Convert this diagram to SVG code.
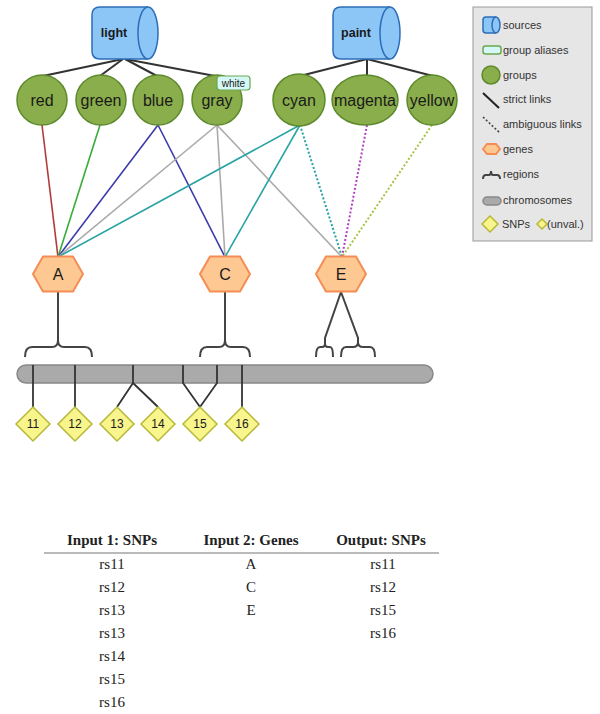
<svg xmlns="http://www.w3.org/2000/svg" width="600" height="714" viewBox="0 0 600 714">
<style>
.src{fill:#8cc6f7;stroke:#2e6eb8;stroke-width:1.5}
.grp{fill:#8aae4b;stroke:#5c8a2c;stroke-width:1.5}
.gene{fill:#fdc892;stroke:#f58d55;stroke-width:2}
.snp{fill:#f8f58d;stroke:#b8b838;stroke-width:1.5}
.chr{fill:#aaaaaa;stroke:#888;stroke-width:1.5}
.reg{fill:none;stroke:#444;stroke-width:2}
.lbl{font-family:"Liberation Sans",Arial,sans-serif;fill:#1a1a1a;text-anchor:middle}
.glbl{font-size:16px}
.slbl{font-size:12.5px;font-weight:bold}
.nlbl{font-size:12px}
.leg{font-family:"Liberation Sans",Arial,sans-serif;font-size:11px;fill:#333}
.tbl{font-family:"Liberation Serif","Times New Roman",serif;font-size:15px;fill:#222;text-anchor:middle}
.th{font-weight:bold;font-size:15px}
.e{fill:none;stroke-width:1.6}
.dot{stroke-dasharray:2,2;stroke-width:2}
</style>
<defs>
<path id="hex" d="M-25,0 L-15,-17.5 L15,-17.5 L25,0 L15,17.5 L-15,17.5 Z"/>
<path id="dia" d="M0,-17 L17,0 L0,17 L-17,0 Z"/>
</defs>

<g id="connectors">
  <g stroke="#333" stroke-width="2" fill="none">
    <line x1="123" y1="59" x2="43" y2="76"/>
    <line x1="123" y1="59" x2="100" y2="76"/>
    <line x1="125" y1="59" x2="157" y2="76"/>
    <line x1="125" y1="59" x2="215" y2="76"/>
    <line x1="367" y1="59" x2="300" y2="76"/>
    <line x1="367" y1="59" x2="367" y2="75"/>
    <line x1="367" y1="59" x2="433" y2="76"/>
  </g>
  <line class="e" x1="42" y1="125" x2="58" y2="257" stroke="#b13b3b"/>
  <line class="e" x1="100" y1="125" x2="58" y2="257" stroke="#3aab3a"/>
  <line class="e" x1="158" y1="125" x2="58" y2="257" stroke="#3b3bab"/>
  <line class="e" x1="158" y1="125" x2="225" y2="257" stroke="#3b3bab"/>
  <line class="e" x1="217" y1="125" x2="58" y2="257" stroke="#aaaaaa"/>
  <line class="e" x1="217" y1="125" x2="225" y2="257" stroke="#aaaaaa"/>
  <line class="e" x1="217" y1="125" x2="342" y2="257" stroke="#aaaaaa"/>
  <line class="e" x1="300" y1="125" x2="58" y2="257" stroke="#2aa3a3"/>
  <line class="e" x1="300" y1="125" x2="225" y2="257" stroke="#2aa3a3"/>
  <line class="e dot" x1="300" y1="125" x2="342" y2="257" stroke="#2aa3a3"/>
  <line class="e dot" x1="367" y1="125" x2="342" y2="257" stroke="#b43fc4"/>
  <line class="e dot" x1="432" y1="125" x2="342" y2="257" stroke="#a3c444"/>
  <path class="reg" d="M58,292 L58,340 M25,357 Q25,347 32,347 L52,347 Q58,347 58,340 Q58,347 64,347 L85,347 Q92,347 92,357"/>
  <path class="reg" d="M225,292 L225,340 M200,357 Q200,347 207,347 L219,347 Q225,347 225,340 Q225,347 231,347 L243,347 Q250,347 250,357"/>
  <path class="reg" d="M341,292 L325,338 L325,346 M316,357 Q316,347 320,347 L322,347 Q325,347 325,344 Q325,347 328,347 L330,347 Q333,347 333,357"/>
  <path class="reg" d="M341,292 L358,338 L358,345 M341,357 Q341,347 346,347 L353,347 Q358,347 358,342 Q358,347 363,347 L370,347 Q375,347 375,357"/>
</g>

<g id="chromosome">
  <rect class="chr" x="17" y="365" width="416" height="18" rx="9"/>
</g>
<g id="snp-links" stroke="#333" stroke-width="1.8" fill="none">
  <line x1="33" y1="365" x2="33" y2="407"/>
  <line x1="75" y1="365" x2="75" y2="407"/>
  <path d="M133,365 L133,383 L117,407 M133,383 L158,407"/>
  <path d="M183,365 L183,383 L200,407 L217,383 L217,365"/>
  <line x1="242" y1="365" x2="242" y2="407"/>
</g>

<g id="src-light">
  <path class="src" d="M100,7 L148,7 A10,26 0 0 1 148,59 L100,59 Q92,59 92,51 L92,15 Q92,7 100,7 Z"/>
  <path class="src" fill="none" d="M148,7 A10,26 0 0 0 148,59"/>
  <text class="lbl slbl" x="114" y="37">light</text>
</g>
<g id="src-paint">
  <path class="src" d="M341,7 L390,7 A10,26 0 0 1 390,59 L341,59 Q333,59 333,51 L333,15 Q333,7 341,7 Z"/>
  <path class="src" fill="none" d="M390,7 A10,26 0 0 0 390,59"/>
  <text class="lbl slbl" x="356" y="37">paint</text>
</g>

<g id="g-red"><circle class="grp" cx="42" cy="100" r="25"/><text class="lbl glbl" x="42" y="106">red</text></g>
<g id="g-green"><circle class="grp" cx="101" cy="100" r="25"/><text class="lbl glbl" x="101" y="106">green</text></g>
<g id="g-blue"><circle class="grp" cx="158" cy="100" r="25"/><text class="lbl glbl" x="158" y="106">blue</text></g>
<g id="g-gray"><circle class="grp" cx="217" cy="100" r="25"/><text class="lbl glbl" x="217" y="106">gray</text>
  <rect x="217" y="76" width="33" height="14" rx="3" fill="#d6f7f7" stroke="#6aa84f" stroke-width="1.2"/>
  <text class="lbl" font-size="10" x="233.5" y="87">white</text>
</g>
<g id="g-cyan"><circle class="grp" cx="299" cy="100" r="26"/><text class="lbl glbl" x="299" y="106">cyan</text></g>
<g id="g-magenta"><ellipse class="grp" cx="365" cy="100" rx="33" ry="25"/><text class="lbl glbl" x="365" y="106" textLength="62">magenta</text></g>
<g id="g-yellow"><ellipse class="grp" cx="432" cy="100" rx="25" ry="25"/><text class="lbl glbl" x="432" y="106">yellow</text></g>

<g id="gene-A"><use href="#hex" class="gene" x="58" y="274"/><text class="lbl glbl" x="58" y="280">A</text></g>
<g id="gene-C"><use href="#hex" class="gene" x="225" y="274"/><text class="lbl glbl" x="225" y="280">C</text></g>
<g id="gene-E"><use href="#hex" class="gene" x="341" y="274"/><text class="lbl glbl" x="341" y="280">E</text></g>

<g id="snp-11"><use href="#dia" class="snp" x="33" y="424"/><text class="lbl nlbl" x="33" y="428">11</text></g>
<g id="snp-12"><use href="#dia" class="snp" x="75" y="424"/><text class="lbl nlbl" x="75" y="428">12</text></g>
<g id="snp-13"><use href="#dia" class="snp" x="117" y="424"/><text class="lbl nlbl" x="117" y="428">13</text></g>
<g id="snp-14"><use href="#dia" class="snp" x="158" y="424"/><text class="lbl nlbl" x="158" y="428">14</text></g>
<g id="snp-15"><use href="#dia" class="snp" x="200" y="424"/><text class="lbl nlbl" x="200" y="428">15</text></g>
<g id="snp-16"><use href="#dia" class="snp" x="242" y="424"/><text class="lbl nlbl" x="242" y="428">16</text></g>

<g id="legend">
  <rect x="473" y="7" width="119" height="234" fill="#e6e6e6" stroke="#999" stroke-width="1"/>
  <path class="src" d="M486,17 L496,17 A4,8 0 0 1 496,33 L486,33 Q483,33 483,30 L483,20 Q483,17 486,17 Z"/>
  <path class="src" fill="none" d="M496,17 A4,8 0 0 0 496,33"/>
  <text class="leg" x="503" y="29">sources</text>
  <rect x="483" y="46" width="18" height="8" rx="2.5" fill="#d6f7f7" stroke="#6aa84f" stroke-width="1.5"/>
  <text class="leg" x="503" y="54">group aliases</text>
  <circle class="grp" cx="491" cy="75" r="9"/>
  <text class="leg" x="503" y="79">groups</text>
  <line x1="483" y1="93" x2="499" y2="108" stroke="#222" stroke-width="2"/>
  <text class="leg" x="503" y="103">strict links</text>
  <line x1="483" y1="117" x2="500" y2="133" stroke="#444" stroke-width="1.6" stroke-dasharray="2,2"/>
  <text class="leg" x="503" y="128">ambiguous links</text>
  <path class="gene" d="M483,149 L487,144 L496,144 L500,149 L496,154 L487,154 Z"/>
  <text class="leg" x="503" y="153">genes</text>
  <path class="reg" stroke-width="1.6" d="M483,179 Q483,175 486,175 L489,175 Q491,175 491,171 Q491,175 493,175 L497,175 Q500,175 500,179"/>
  <text class="leg" x="503" y="178">regions</text>
  <rect class="chr" x="483" y="197" width="18" height="8" rx="4"/>
  <text class="leg" x="503" y="204">chromosomes</text>
  <path class="snp" d="M490,216 L498,224 L490,232 L482,224 Z"/>
  <text class="leg" x="502" y="228">SNPs</text>
  <path class="snp" d="M542,219 L547,224 L542,229 L537,224 Z"/>
  <text class="leg" x="547" y="228">(unval.)</text>
</g>

<g id="table">
  <text class="tbl th" x="112" y="545">Input 1: SNPs</text>
  <text class="tbl th" x="251" y="545">Input 2: Genes</text>
  <text class="tbl th" x="381" y="545">Output: SNPs</text>
  <line x1="44" y1="553" x2="439" y2="553" stroke="#777" stroke-width="1.2"/>
  <text class="tbl" x="112" y="569">rs11</text>
  <text class="tbl" x="112" y="592">rs12</text>
  <text class="tbl" x="112" y="615">rs13</text>
  <text class="tbl" x="112" y="638">rs13</text>
  <text class="tbl" x="112" y="661">rs14</text>
  <text class="tbl" x="112" y="684">rs15</text>
  <text class="tbl" x="112" y="707">rs16</text>
  <text class="tbl" x="251" y="569">A</text>
  <text class="tbl" x="251" y="592">C</text>
  <text class="tbl" x="251" y="615">E</text>
  <text class="tbl" x="383" y="569">rs11</text>
  <text class="tbl" x="383" y="592">rs12</text>
  <text class="tbl" x="383" y="615">rs15</text>
  <text class="tbl" x="383" y="638">rs16</text>
</g>
</svg>
